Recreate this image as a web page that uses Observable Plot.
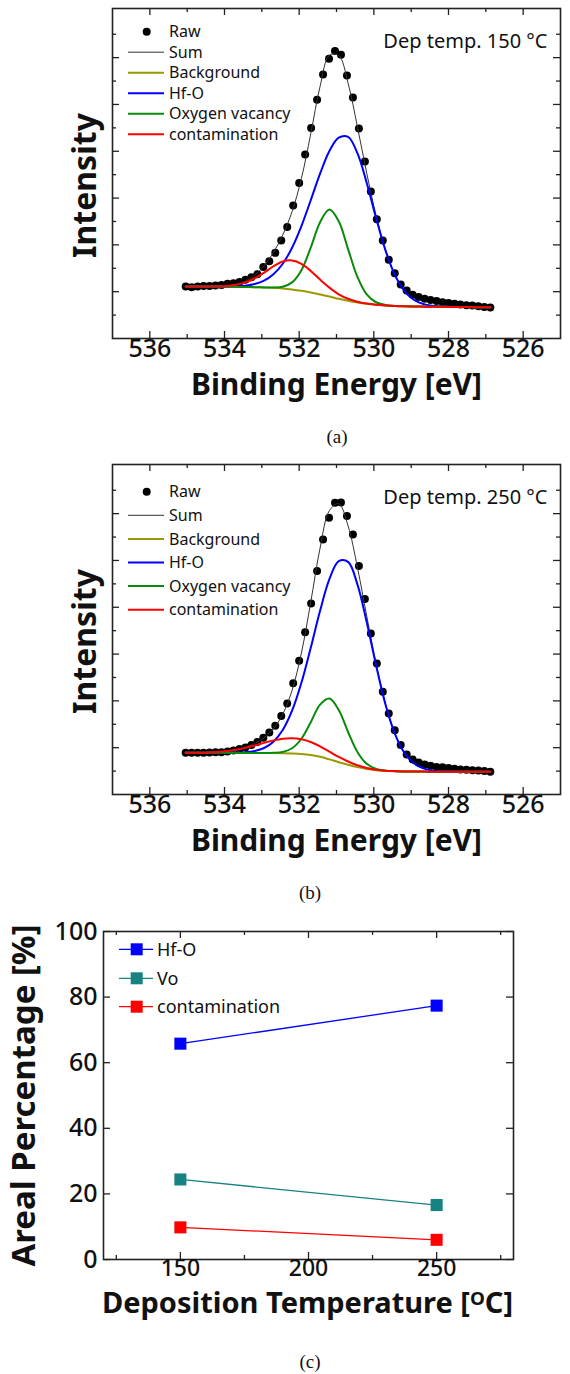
<!DOCTYPE html>
<html><head><meta charset="utf-8">
<script src="https://cdn.jsdelivr.net/npm/d3@7"></script>
<script src="https://cdn.jsdelivr.net/npm/@observablehq/plot@0.6"></script>
<style>
html,body{margin:0;padding:0;background:#fff;}
#fig{position:relative;width:570px;height:1374px;background:#fff;overflow:hidden;}
#fig svg{position:absolute;left:0;overflow:visible;}
.cap{position:absolute;font-family:"Liberation Serif","Times New Roman",serif;font-size:19px;color:#111;transform:translate(-50%,-50%);white-space:nowrap;}
</style></head><body>
<div id="fig"></div>
<script>
// ---------- data ----------
const rawEnergy = [535.04, 534.88, 534.72, 534.56, 534.40, 534.24, 534.08, 533.92, 533.76, 533.60, 533.44, 533.28, 533.12, 532.96, 532.80, 532.64, 532.48, 532.32, 532.16, 532.00, 531.84, 531.68, 531.52, 531.36, 531.20, 531.04, 530.88, 530.72, 530.56, 530.40, 530.24, 530.08, 529.92, 529.76, 529.60, 529.44, 529.28, 529.12, 528.96, 528.80, 528.64, 528.48, 528.32, 528.16, 528.00, 527.84, 527.68, 527.52, 527.36, 527.20, 527.04, 526.88];
const raw150 = [2.22, 2.19, 2.22, 2.24, 2.24, 2.26, 2.29, 2.34, 2.36, 2.41, 2.51, 2.62, 2.74, 3.05, 3.30, 3.66, 4.19, 4.76, 5.68, 6.64, 7.86, 8.99, 10.20, 11.28, 11.95, 12.28, 12.12, 11.24, 10.30, 8.97, 7.56, 6.28, 5.09, 4.19, 3.36, 2.79, 2.31, 2.05, 1.87, 1.77, 1.70, 1.65, 1.60, 1.55, 1.52, 1.48, 1.45, 1.42, 1.41, 1.38, 1.35, 1.32];
const raw250 = [1.78, 1.78, 1.78, 1.78, 1.79, 1.80, 1.81, 1.84, 1.88, 1.94, 2.01, 2.11, 2.24, 2.42, 2.65, 2.94, 3.35, 3.89, 4.75, 5.71, 6.93, 8.16, 9.55, 10.90, 11.83, 12.47, 12.48, 11.90, 11.11, 9.76, 8.35, 6.88, 5.60, 4.39, 3.46, 2.75, 2.11, 1.71, 1.50, 1.37, 1.28, 1.23, 1.18, 1.16, 1.13, 1.10, 1.07, 1.06, 1.04, 1.03, 1.00, 0.97];

const fitEnergy = [535.04, 534.94, 534.69, 534.44, 534.19, 533.94, 533.69, 533.44, 533.19, 532.94, 532.69, 532.44, 532.19, 531.94, 531.69, 531.44, 531.19, 530.94, 530.69, 530.44, 530.19, 529.94, 529.69, 529.44, 529.19, 528.94, 528.69, 528.44, 528.19, 527.94, 527.69, 527.44, 527.19, 526.94, 526.88];

const background150 = [2.222, 2.222, 2.222, 2.222, 2.222, 2.215, 2.208, 2.201, 2.194, 2.179, 2.165, 2.137, 2.094, 2.037, 1.966, 1.880, 1.795, 1.695, 1.610, 1.538, 1.481, 1.439, 1.410, 1.389, 1.375, 1.368, 1.362, 1.356, 1.352, 1.348, 1.344, 1.341, 1.338, 1.335, 1.330];
const hfO150 = [2.222, 2.222, 2.222, 2.223, 2.225, 2.223, 2.230, 2.258, 2.328, 2.469, 2.743, 3.195, 3.879, 4.804, 5.907, 7.043, 8.013, 8.584, 8.617, 7.923, 6.648, 5.150, 3.776, 2.729, 2.048, 1.668, 1.481, 1.398, 1.365, 1.352, 1.345, 1.341, 1.338, 1.335, 1.330];
const vacancy150 = [2.222, 2.222, 2.222, 2.222, 2.222, 2.215, 2.208, 2.201, 2.195, 2.181, 2.180, 2.214, 2.397, 2.920, 3.881, 4.971, 5.508, 5.013, 3.817, 2.631, 1.883, 1.549, 1.432, 1.392, 1.375, 1.368, 1.362, 1.356, 1.352, 1.348, 1.344, 1.341, 1.338, 1.335, 1.330];
const contamination150 = [2.222, 2.222, 2.223, 2.225, 2.233, 2.248, 2.295, 2.396, 2.574, 2.816, 3.087, 3.289, 3.334, 3.189, 2.888, 2.517, 2.175, 1.890, 1.697, 1.571, 1.492, 1.442, 1.410, 1.389, 1.375, 1.368, 1.362, 1.356, 1.352, 1.348, 1.344, 1.341, 1.338, 1.335, 1.330];
const sum150 = [2.222, 2.222, 2.223, 2.226, 2.236, 2.256, 2.317, 2.453, 2.709, 3.108, 3.680, 4.424, 5.422, 6.839, 8.744, 10.771, 12.106, 12.097, 10.911, 9.049, 7.061, 5.263, 3.798, 2.732, 2.048, 1.668, 1.481, 1.398, 1.365, 1.352, 1.345, 1.341, 1.338, 1.335, 1.330];

const background250 = [1.78, 1.78, 1.78, 1.78, 1.78, 1.78, 1.78, 1.775, 1.775, 1.77, 1.77, 1.765, 1.755, 1.735, 1.69, 1.61, 1.50, 1.38, 1.27, 1.17, 1.09, 1.04, 1.01, 0.995, 0.985, 0.98, 0.978, 0.976, 0.975, 0.974, 0.973, 0.972, 0.971, 0.970, 0.970];
const hfO250 = [1.78, 1.78, 1.78, 1.78, 1.78, 1.783, 1.790, 1.807, 1.862, 1.987, 2.257, 2.756, 3.579, 4.772, 6.267, 7.85, 9.20, 9.97, 9.94, 8.98, 7.36, 5.52, 3.86, 2.615, 1.803, 1.348, 1.126, 1.029, 0.992, 0.979, 0.974, 0.972, 0.971, 0.970, 0.970];
const vacancy250 = [1.78, 1.78, 1.78, 1.78, 1.78, 1.78, 1.78, 1.775, 1.775, 1.771, 1.780, 1.819, 1.975, 2.383, 3.09, 3.84, 4.10, 3.61, 2.67, 1.818, 1.31, 1.094, 1.02, 0.996, 0.985, 0.98, 0.978, 0.976, 0.975, 0.974, 0.973, 0.972, 0.971, 0.970, 0.970];
const contamination250 = [1.783, 1.783, 1.788, 1.799, 1.820, 1.856, 1.914, 1.992, 2.096, 2.206, 2.313, 2.385, 2.405, 2.360, 2.241, 2.055, 1.830, 1.604, 1.410, 1.250, 1.132, 1.060, 1.019, 0.999, 0.987, 0.98, 0.978, 0.976, 0.975, 0.974, 0.973, 0.972, 0.971, 0.970, 0.970];
const sum250 = [1.783, 1.783, 1.788, 1.799, 1.820, 1.859, 1.924, 2.024, 2.183, 2.424, 2.810, 3.430, 4.449, 6.045, 8.218, 10.525, 12.13, 12.424, 11.48, 9.708, 7.622, 5.594, 3.879, 2.62, 1.807, 1.348, 1.126, 1.029, 0.992, 0.979, 0.974, 0.972, 0.971, 0.970, 0.970];

const xMajorBE = [536, 534, 532, 530, 528, 526];
const xMinorBE = [535, 533, 531, 529, 527];
const yMajorI = [2, 4, 6, 8, 10, 12];
const yMinorI = [1, 3, 5, 7, 9, 11, 13];
const specLegendLabels = ["Raw", "Sum", "Background", "Hf-O", "Oxygen vacancy", "contamination"];
const specLegendColors = ["#000000", "#333333", "#9a9a00", "#0000ff", "#0a8a0a", "#ff0000"];

const depTemps = [150, 250];
const pctHfO = [65.8, 77.4];
const pctVo = [24.4, 16.6];
const pctCont = [9.8, 6.0];
const pctLegendLabels = ["Hf-O", "Vo", "contamination"];
const pctColors = ["#0000ff", "#168282", "#ff0000"];
const cxMajor = [150, 200, 250];
const cxMinor = [125, 175, 225, 275];
const cyMajor = [0, 20, 40, 60, 80, 100];

// ---------- drawing ----------
const FONT = "'Noto Sans', 'DejaVu Sans', sans-serif";
const W = 570;
const fig = document.getElementById("fig");
const FRAME = "#222";
const INK = "#111";

function boxTicks(iw, ih, xMaj, xMin, yMaj, yMin) {
  const o = {stroke: FRAME, strokeWidth: 1.3};
  const m = [];
  m.push(Plot.tickX(xMaj, {x: d => d, insetTop: ih - 7, ...o}));
  m.push(Plot.tickX(xMaj, {x: d => d, insetBottom: ih - 7, ...o}));
  if (xMin) {
    m.push(Plot.tickX(xMin, {x: d => d, insetTop: ih - 4, ...o}));
    m.push(Plot.tickX(xMin, {x: d => d, insetBottom: ih - 4, ...o}));
  }
  m.push(Plot.tickY(yMaj, {y: d => d, insetRight: iw - 7, ...o}));
  m.push(Plot.tickY(yMaj, {y: d => d, insetLeft: iw - 7, ...o}));
  if (yMin) {
    m.push(Plot.tickY(yMin, {y: d => d, insetRight: iw - 4, ...o}));
    m.push(Plot.tickY(yMin, {y: d => d, insetLeft: iw - 4, ...o}));
  }
  return m;
}

function spectrum({raw, bg, hf, ov, co, sum, temp, top, legendTop, legendGap}) {
  const mL = 112, mR = 10, mT = 8, mB = 87, H = 425;
  const iw = W - mL - mR, ih = H - mT - mB;
  const rawRows = rawEnergy.map((e, i) => ({e, v: raw[i]}));
  const fitRows = fitEnergy.map((e, i) => ({e, bg: bg[i], hf: hf[i], ov: ov[i], co: co[i], sum: sum[i]}));
  const line = (key, stroke, w) => Plot.line(fitRows, {x: "e", y: key, stroke, strokeWidth: w, curve: "catmull-rom"});
  const svg = Plot.plot({
    width: W, height: H, marginLeft: mL, marginRight: mR, marginTop: mT, marginBottom: mB,
    style: {fontFamily: FONT, background: "transparent", color: INK},
    x: {domain: [537, 525], axis: null},
    y: {domain: [0, 14.1], axis: null},
    marks: [
      ...boxTicks(iw, ih, xMajorBE, xMinorBE, yMajorI, yMinorI),
      Plot.dot(rawRows, {x: "e", y: "v", r: 4, fill: "#000", stroke: null}),
      line("sum", "#333", 1),
      line("bg", specLegendColors[2], 2),
      line("hf", specLegendColors[3], 2),
      line("ov", specLegendColors[4], 2),
      line("co", specLegendColors[5], 2),
      Plot.frame({stroke: FRAME, strokeWidth: 1.6}),
      Plot.text(xMajorBE, {x: d => d, text: d => String(d), frameAnchor: "bottom", dy: 18, fontSize: 25, fontWeight: 500, fill: INK}),
      Plot.text(["Binding Energy [eV]"], {frameAnchor: "bottom", textAnchor: "middle", dy: 56, fontSize: 30, fontWeight: "bold", fill: INK}),
      Plot.text(["Intensity"], {frameAnchor: "left", textAnchor: "middle", dx: -27, dy: 12, rotate: -90, fontSize: 32, fontWeight: "bold", fill: INK}),
      Plot.text([`Dep temp. ${temp} °C`], {frameAnchor: "top-right", dx: -13, dy: 25, textAnchor: "end", fontSize: 20, fill: INK})
    ]
  });
  svg.style.top = top + "px";
  const g = d3.select(svg).append("g").attr("font-family", FONT).attr("font-size", 16)
    .attr("fill", INK).attr("text-anchor", "start");
  specLegendLabels.forEach((lab, i) => {
    const y = mT + legendTop + i * legendGap;
    if (i === 0) g.append("circle").attr("cx", 146.7).attr("cy", y).attr("r", 4).attr("fill", "#000");
    else g.append("line").attr("x1", 128).attr("x2", 164).attr("y1", y).attr("y2", y)
      .attr("stroke", specLegendColors[i]).attr("stroke-width", i === 1 ? 1 : 2);
    g.append("text").attr("x", 169).attr("y", y).attr("dy", "0.35em").text(lab);
  });
  fig.appendChild(svg);
}

spectrum({raw: raw150, bg: background150, hf: hfO150, ov: vacancy150, co: contamination150, sum: sum150,
  temp: 150, top: 0, legendTop: 23.7, legendGap: 20.5});
spectrum({raw: raw250, bg: background250, hf: hfO250, ov: vacancy250, co: contamination250, sum: sum250,
  temp: 250, top: 456, legendTop: 27.7, legendGap: 23.6});

// panel (c)
(function () {
  const top = 905, mL = 103, mR = 57, mT = 26, mB = 76, H = 430;
  const iw = W - mL - mR, ih = H - mT - mB;
  const series = [pctHfO, pctVo, pctCont];
  const rows = [];
  series.forEach((vals, s) => depTemps.forEach((t, i) => rows.push({t, v: vals[i], s})));
  const marks = [...boxTicks(iw, ih, cxMajor, cxMinor, cyMajor, null)];
  series.forEach((vals, s) => {
    const r = rows.filter(d => d.s === s);
    marks.push(Plot.line(r, {x: "t", y: "v", stroke: pctColors[s], strokeWidth: 1.3}));
    marks.push(Plot.dot(r, {x: "t", y: "v", symbol: "square", r: 6.8, fill: pctColors[s], stroke: null}));
  });
  marks.push(
    Plot.frame({stroke: FRAME, strokeWidth: 1.6}),
    Plot.text(cyMajor, {y: d => d, text: d => String(d), frameAnchor: "left", dx: -6, textAnchor: "end", fontSize: 25, fontWeight: 500, fill: INK}),
    Plot.text(cxMajor, {x: d => d, text: d => String(d), frameAnchor: "bottom", dy: 16, fontSize: 23, fontWeight: 500, fill: INK}),
    Plot.text(["Areal Percentage [%]"], {frameAnchor: "left", textAnchor: "middle", dx: -79, dy: 0, rotate: -90, fontSize: 33, fontWeight: "bold", fill: INK}),
    Plot.text(["Deposition Temperature [\u1D3CC]"], {frameAnchor: "bottom", textAnchor: "middle", dy: 53, dx: -1, fontSize: 29, fontWeight: "bold", fill: INK})
  );
  const svg = Plot.plot({
    width: W, height: H, marginLeft: mL, marginRight: mR, marginTop: mT, marginBottom: mB,
    style: {fontFamily: FONT, background: "transparent", color: INK},
    x: {domain: [120, 280], axis: null},
    y: {domain: [0, 100], axis: null},
    marks
  });
  svg.style.top = top + "px";
  const g = d3.select(svg).append("g").attr("font-family", FONT).attr("font-size", 18)
    .attr("fill", INK).attr("text-anchor", "start");
  const rowsY = [44.3, 73.3, 101.7];
  pctLegendLabels.forEach((lab, i) => {
    const y = rowsY[i];
    g.append("line").attr("x1", 119).attr("x2", 153).attr("y1", y).attr("y2", y).attr("stroke", pctColors[i]).attr("stroke-width", 1.3);
    g.append("rect").attr("x", 136.7 - 6).attr("y", y - 6).attr("width", 12).attr("height", 12).attr("fill", pctColors[i]);
    g.append("text").attr("x", 157).attr("y", y).attr("dy", "0.35em").text(lab);
  });
  fig.appendChild(svg);
})();

// captions
[["(a)", 337, 437], ["(b)", 310, 893], ["(c)", 310, 1362]].forEach(([t, x, y]) => {
  const d = document.createElement("div");
  d.className = "cap"; d.textContent = t;
  d.style.left = x + "px"; d.style.top = y + "px";
  fig.appendChild(d);
});
</script>
</body></html>
